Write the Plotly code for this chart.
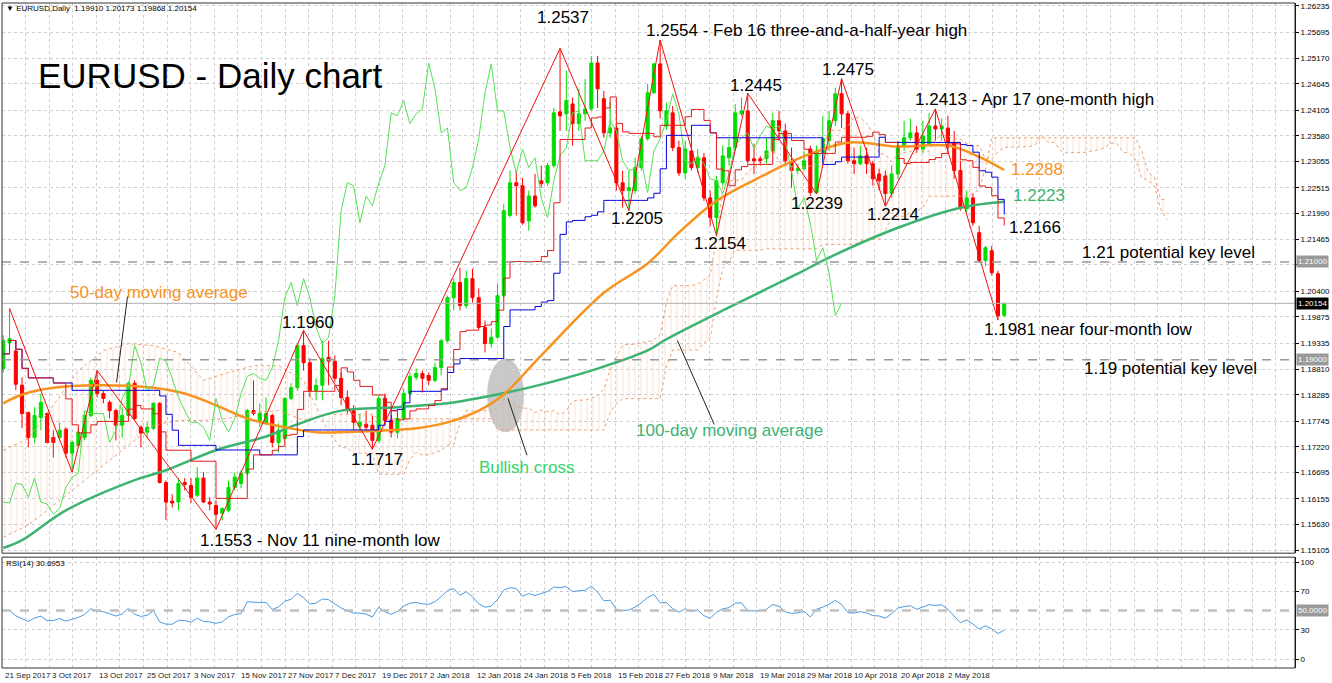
import plotly.graph_objects as go
import pandas as pd
import numpy as np

# ---------------- data ----------------
OPEN = [1.1882,1.1935,1.1918,1.1848,1.1792,1.1741,1.1782,1.1790,1.1741,1.1741,
        1.1758,1.1709,1.1725,1.1741,1.1786,1.1858,1.1831,1.1813,1.1796,1.1766,
        1.1786,1.1852,1.1762,1.1752,1.1760,1.1811,1.1649,1.1611,1.1609,1.1649,
        1.1643,1.1623,1.1658,1.1609,1.1602,1.1586,1.1592,1.1639,1.1647,1.1668,
        1.1796,1.1776,1.1770,1.1786,1.1731,1.1739,1.1821,1.1843,1.1929,1.1894,
        1.1837,1.1848,1.1905,1.1897,1.1862,1.1823,1.1796,1.1764,1.1768,1.1766,
        1.1735,1.1821,1.1776,1.1752,1.1780,1.1831,1.1864,1.1872,1.1868,1.1858,
        1.1884,1.1939,1.2027,1.2058,1.2011,1.2066,1.2027,1.1966,1.1933,1.1946,
        1.2031,1.2195,1.2262,1.2256,1.2184,1.2235,1.2266,1.2262,1.2297,1.2407,
        1.2403,1.2423,1.2383,1.2403,1.2413,1.2507,1.2434,1.2364,1.2374,1.2262,
        1.2246,1.2246,1.2293,1.2352,1.2446,1.2505,1.2378,1.2405,1.2334,1.2282,
        1.2327,1.2293,1.2313,1.2231,1.2191,1.2262,1.2313,1.2334,1.2403,1.2409,
        1.2311,1.2311,1.2311,1.2327,1.2389,1.2368,1.2305,1.2287,1.2291,1.2331,
        1.2242,1.2323,1.2348,1.2389,1.2444,1.2403,1.2307,1.2301,1.2317,1.2301,
        1.2280,1.2276,1.2240,1.2280,1.2338,1.2354,1.2364,1.2331,1.2342,1.2378,
        1.2372,1.2374,1.2344,1.2287,1.2209,1.2231,1.2160,1.2103,1.2123,1.2076,
        1.19910]
HIGH = [1.1950,1.2005,1.1940,1.1864,1.1794,1.1803,1.1831,1.1792,1.1756,1.1772,
        1.1762,1.1735,1.1760,1.1792,1.1864,1.1878,1.1837,1.1817,1.1800,1.1803,
        1.1856,1.1858,1.1766,1.1772,1.1813,1.1813,1.1653,1.1625,1.1658,1.1658,
        1.1658,1.1680,1.1670,1.1619,1.1613,1.1598,1.1653,1.1670,1.1674,1.1800,
        1.1858,1.1811,1.1823,1.1790,1.1770,1.1823,1.1852,1.1933,1.1960,1.1903,
        1.1862,1.1939,1.1939,1.1909,1.1874,1.1837,1.1807,1.1790,1.1796,1.1786,
        1.1827,1.1831,1.1786,1.1796,1.1841,1.1874,1.1882,1.1878,1.1874,1.1894,
        1.1943,1.2031,1.2066,1.2088,1.2082,1.2086,1.2046,1.1980,1.1964,1.2056,
        1.2219,1.2287,1.2287,1.2272,1.2246,1.2280,1.2297,1.2303,1.2415,1.2537,
        1.2491,1.2436,1.2454,1.2474,1.2521,1.2521,1.2450,1.2426,1.2383,1.2287,
        1.2287,1.2313,1.2358,1.2464,1.2507,1.2554,1.2426,1.2419,1.2348,1.2348,
        1.2358,1.2331,1.2323,1.2246,1.2276,1.2338,1.2352,1.2423,1.2436,1.2445,
        1.2342,1.2317,1.2354,1.2405,1.2409,1.2383,1.2334,1.2301,1.2327,1.2338,
        1.2338,1.2399,1.2409,1.2456,1.2475,1.2409,1.2334,1.2338,1.2334,1.2307,
        1.2291,1.2287,1.2297,1.2348,1.2389,1.2393,1.2378,1.2389,1.2405,1.2413,
        1.2393,1.2399,1.2368,1.2307,1.2246,1.2240,1.2174,1.2133,1.2133,1.2082,
        1.20173]
LOW = [1.1874,1.1930,1.1838,1.1760,1.1721,1.1729,1.1756,1.1729,1.1700,1.1735,
       1.1700,1.1670,1.1720,1.1735,1.1782,1.1823,1.1811,1.1780,1.1735,1.1741,
       1.1782,1.1776,1.1721,1.1741,1.1756,1.1647,1.1572,1.1598,1.1592,1.1633,
       1.1607,1.1619,1.1607,1.1592,1.1553,1.1572,1.1588,1.1633,1.1637,1.1664,
       1.1786,1.1762,1.1766,1.1721,1.1711,1.1735,1.1817,1.1837,1.1878,1.1823,
       1.1817,1.1817,1.1848,1.1854,1.1807,1.1790,1.1756,1.1752,1.1756,1.1717,
       1.1731,1.1766,1.1741,1.1739,1.1776,1.1827,1.1858,1.1833,1.1848,1.1854,
       1.1868,1.1935,1.2001,1.2001,1.2005,1.2017,1.1964,1.1915,1.1925,1.1944,
       1.2027,1.2191,1.2195,1.2176,1.2164,1.2211,1.2252,1.2256,1.2293,1.2368,
       1.2368,1.2338,1.2368,1.2389,1.2409,1.2415,1.2354,1.2354,1.2246,1.2211,
       1.2205,1.2240,1.2287,1.2348,1.2444,1.2393,1.2370,1.2327,1.2276,1.2270,
       1.2287,1.2282,1.2225,1.2174,1.2154,1.2256,1.2297,1.2327,1.2399,1.2301,
       1.2280,1.2297,1.2301,1.2321,1.2348,1.2301,1.2252,1.2280,1.2287,1.2235,
       1.2239,1.2307,1.2327,1.2378,1.2374,1.2301,1.2280,1.2297,1.2280,1.2256,
       1.2246,1.2214,1.2231,1.2270,1.2327,1.2348,1.2323,1.2323,1.2338,1.2348,
       1.2348,1.2331,1.2270,1.2205,1.2201,1.2174,1.2098,1.2092,1.2072,1.1981,
       1.19868]
CLOSE = [1.1939,1.1943,1.1850,1.1790,1.1741,1.1786,1.1813,1.1731,1.1731,1.1756,
         1.1709,1.1731,1.1752,1.1786,1.1858,1.1831,1.1821,1.1796,1.1766,1.1786,
         1.1852,1.1780,1.1750,1.1762,1.1811,1.1649,1.1609,1.1607,1.1647,1.1645,
         1.1619,1.1658,1.1609,1.1605,1.1584,1.1596,1.1639,1.1660,1.1668,1.1796,
         1.1790,1.1790,1.1790,1.1731,1.1756,1.1821,1.1843,1.1929,1.1894,1.1837,
         1.1848,1.1903,1.1897,1.1862,1.1823,1.1796,1.1772,1.1772,1.1762,1.1735,
         1.1821,1.1776,1.1752,1.1780,1.1831,1.1866,1.1872,1.1862,1.1858,1.1884,
         1.1939,1.2027,1.2058,1.2011,1.2066,1.2027,1.1966,1.1933,1.1946,1.2031,
         1.2205,1.2262,1.2256,1.2180,1.2235,1.2215,1.2260,1.2297,1.2405,1.2399,
         1.2430,1.2383,1.2403,1.2413,1.2507,1.2454,1.2364,1.2374,1.2262,1.2246,
         1.2252,1.2293,1.2352,1.2446,1.2505,1.2409,1.2409,1.2334,1.2282,1.2331,
         1.2293,1.2313,1.2231,1.2191,1.2266,1.2317,1.2334,1.2405,1.2409,1.2307,
         1.2307,1.2307,1.2327,1.2389,1.2368,1.2307,1.2287,1.2291,1.2307,1.2242,
         1.2327,1.2352,1.2389,1.2444,1.2403,1.2307,1.2301,1.2317,1.2301,1.2270,
         1.2266,1.2240,1.2280,1.2338,1.2354,1.2364,1.2331,1.2358,1.2378,1.2372,
         1.2378,1.2344,1.2287,1.2209,1.2231,1.2180,1.2103,1.2129,1.2078,1.1990,
         1.20154]

DATE_LABELS = ["21 Sep 2017", "3 Oct 2017", "13 Oct 2017", "25 Oct 2017", "3 Nov 2017",
               "15 Nov 2017", "27 Nov 2017", "7 Dec 2017", "19 Dec 2017", "2 Jan 2018",
               "12 Jan 2018", "24 Jan 2018", "5 Feb 2018", "15 Feb 2018", "27 Feb 2018",
               "9 Mar 2018", "19 Mar 2018", "29 Mar 2018", "10 Apr 2018", "20 Apr 2018",
               "2 May 2018"]

PRICE_TICKS = [1.26235, 1.25695, 1.25170, 1.24645, 1.24105, 1.23580, 1.23055, 1.22515,
               1.21990, 1.21465, 1.20940, 1.20400, 1.19875, 1.19335, 1.18810, 1.18285,
               1.17745, 1.17220, 1.16695, 1.16155, 1.15630, 1.15105]
HIDDEN_TICKS = [1.20940]          # label covered by the 1.21000 marker in the original
RSI_TICKS = [0, 30, 70, 100]

# moving averages read at sample bars
MA50_IDX = [0, 3, 8, 15, 24, 29, 34, 39, 45, 50, 58, 66, 71, 76, 80, 86, 96, 103, 108,
            114, 122, 127, 135, 143, 151, 156, 160]
MA50_VAL = [1.1811, 1.1829, 1.1843, 1.1848, 1.1843, 1.1831, 1.1807, 1.1780, 1.1762, 1.1752,
            1.1754, 1.1760, 1.1772, 1.1796, 1.1829, 1.1909, 1.2037, 1.2097, 1.2160, 1.2225,
            1.2280, 1.2311, 1.2344, 1.2336, 1.2338, 1.2315, 1.2288]
MA100_IDX = [0, 3, 10, 21, 26, 34, 42, 47, 54, 63, 71, 74, 84, 95, 103, 106, 116, 127,
             132, 143, 153, 160]
MA100_VAL = [1.1515, 1.1531, 1.1592, 1.1654, 1.1674, 1.1715, 1.1743, 1.1768, 1.1796, 1.1803,
             1.1811, 1.1817, 1.1843, 1.1882, 1.1919, 1.1942, 1.2007, 1.2076, 1.2109, 1.2170,
             1.2211, 1.2223]

# early part of the Ichimoku cloud (needs history before the chart)
CLOUD_EARLY_IDX = [0, 4, 8, 12, 16, 20, 24, 28, 32, 36, 40, 44, 48]
CLOUD_EARLY_A = [1.1715, 1.1739, 1.1807, 1.1878, 1.1919, 1.1933, 1.1929, 1.1915, 1.1858,
                 1.1874, 1.1888, 1.1888, 1.1858]
CLOUD_EARLY_B = [1.1537, 1.1562, 1.1602, 1.1643, 1.1684, 1.1725, 1.1766, 1.1776, 1.1776,
                 1.1780, 1.1792, 1.1796, 1.1776]

# zigzag pivots
PIVOT_IDX = [1, 11, 15, 34, 48, 59, 89, 100, 105, 114, 119, 130, 134, 141, 149, 159]
PIVOT_KIND = ["H", "L", "H", "L", "H", "L", "H", "L", "H", "L", "H", "L", "H", "L", "H", "L"]

KEY_LEVELS = [1.21, 1.19]
LAST_PRICE = 1.20154

# ---------------- derived indicators ----------------
df = pd.DataFrame({"o": OPEN, "h": HIGH, "l": LOW, "c": CLOSE})
n = len(df)
idx = np.arange(n)
tenkan = (df.h.rolling(9, min_periods=1).max() + df.l.rolling(9, min_periods=1).min()) / 2
kijun = (df.h.rolling(26, min_periods=1).max() + df.l.rolling(26, min_periods=1).min()) / 2
span_a_raw = (tenkan + kijun) / 2
span_b_raw = (df.h.rolling(52, min_periods=1).max() + df.l.rolling(52, min_periods=1).min()) / 2
shifted = idx + 26
mask = shifted >= 52
cloud_x = CLOUD_EARLY_IDX + list(shifted[mask])
cloud_a = CLOUD_EARLY_A + list(span_a_raw[mask])
cloud_b = CLOUD_EARLY_B + list(span_b_raw[mask])

chikou_x = idx[:-26]
chikou_y = CLOSE[26:]

zz_y = [HIGH[i] if k == "H" else LOW[i] for i, k in zip(PIVOT_IDX, PIVOT_KIND)]

# Wilder RSI(14)
ag, al = 0.003, 0.003
rsi = [50.0]
for i in range(1, n):
    d = CLOSE[i] - CLOSE[i - 1]
    ag = (ag * 13 + max(d, 0)) / 14
    al = (al * 13 + max(-d, 0)) / 14
    rsi.append(100 - 100 / (1 + ag / al))

# ---------------- layout geometry ----------------
W, H = 1332, 683
ML, MR, MT, MB = 2, 32, 2, 15
PW, PH = W - ML - MR, H - MT - MB
BAR0, DX = 3.3, 6.28           # pixel of bar 0 and pixel per bar
x_min = -(BAR0 - ML) / DX
x_max = x_min + PW / DX
P0, KP = 1.26337, 0.0002042     # price = P0 - KP * ypix
main_top, main_bot = 2, 553
rsi_top, rsi_bot = 557, 668
dom_main = [(668 - main_bot) / PH, 1.0]
dom_rsi = [0.0, (668 - rsi_top) / PH]
y_rng = [P0 - KP * main_bot, P0 - KP * main_top]
rsi_rng = [(659 - rsi_bot) / 0.97, (659 - rsi_top) / 0.97]


def pxx(px):
    return (px - ML) / PW


def pxy(py):
    return (668 - py) / PH


GREEN = "#00dd00"
RED = "#ff0000"
ORANGE = "#f7931e"
MAGREEN = "#3cb371"
FONT = "Liberation Sans, Arial, sans-serif"

fig = go.Figure()

# cloud
fig.add_trace(go.Scatter(x=cloud_x, y=cloud_b, mode="lines",
                         line=dict(color="#f0a070", width=1, dash="dot"),
                         hoverinfo="skip", yaxis="y"))
fig.add_trace(go.Scatter(x=cloud_x, y=cloud_a, mode="lines", fill="tonexty",
                         fillcolor="rgba(0,0,0,0)",
                         fillpattern=dict(shape="|", fgcolor="rgba(240,150,100,0.55)",
                                          bgcolor="rgba(255,255,255,0)", size=6, solidity=0.17),
                         line=dict(color="#f0a070", width=1, dash="dot"),
                         hoverinfo="skip", yaxis="y"))

# moving averages
fig.add_trace(go.Scatter(x=MA100_IDX, y=MA100_VAL, mode="lines", line_shape="spline",
                         line=dict(color=MAGREEN, width=2.5), hoverinfo="skip"))
fig.add_trace(go.Scatter(x=MA50_IDX, y=MA50_VAL, mode="lines", line_shape="spline",
                         line=dict(color=ORANGE, width=2.5), hoverinfo="skip"))

# candles
fig.add_trace(go.Candlestick(x=idx, open=OPEN, high=HIGH, low=LOW, close=CLOSE,
                             increasing=dict(line=dict(color=GREEN, width=1), fillcolor=GREEN),
                             decreasing=dict(line=dict(color=RED, width=1), fillcolor=RED),
                             whiskerwidth=0, hoverinfo="skip"))

# ichimoku lines
fig.add_trace(go.Scatter(x=chikou_x, y=chikou_y, mode="lines",
                         line=dict(color="#55e055", width=1), hoverinfo="skip"))
fig.add_trace(go.Scatter(x=idx, y=kijun, mode="lines", line_shape="hv",
                         line=dict(color="#0000dd", width=1), hoverinfo="skip"))
fig.add_trace(go.Scatter(x=idx, y=tenkan, mode="lines", line_shape="hv",
                         line=dict(color="#e41a1a", width=1), hoverinfo="skip"))
# zigzag
fig.add_trace(go.Scatter(x=PIVOT_IDX, y=zz_y, mode="lines",
                         line=dict(color="#ee1111", width=1), hoverinfo="skip"))

# RSI
fig.add_trace(go.Scatter(x=idx, y=rsi, mode="lines", yaxis="y2",
                         line=dict(color="#4a9ae0", width=1), hoverinfo="skip"))

# ---------------- shapes ----------------
shapes = []
for lv in KEY_LEVELS:
    shapes.append(dict(type="line", xref="paper", x0=0, x1=1, yref="y", y0=lv, y1=lv,
                       line=dict(color="#9a9a9a", width=1.5, dash="dash")))
shapes.append(dict(type="line", xref="paper", x0=0, x1=1, yref="y", y0=LAST_PRICE, y1=LAST_PRICE,
                   line=dict(color="#b0b0b0", width=1)))
shapes.append(dict(type="line", xref="paper", x0=0, x1=1, yref="y2", y0=50, y1=50,
                   line=dict(color="#c0c0c0", width=2.5, dash="dash")))
# ellipse for bullish cross
shapes.append(dict(type="circle", xref="paper", yref="paper", x0=pxx(489), x1=pxx(526),
                   y0=pxy(432), y1=pxy(358), fillcolor="#c9c9c9", line=dict(width=0),
                   layer="below"))
# pointer lines
for (a, b, c, d) in [(128, 296, 117, 382), (680, 340, 717, 424), (510, 398, 529, 455)]:
    shapes.append(dict(type="line", xref="paper", yref="paper", x0=pxx(a), y0=pxy(b),
                       x1=pxx(c), y1=pxy(d), line=dict(color="#222", width=1)))
# panel frames
for dom in (dom_main, dom_rsi):
    shapes.append(dict(type="rect", xref="paper", yref="paper", x0=0, x1=1, y0=dom[0], y1=dom[1],
                       line=dict(color="#333", width=1), fillcolor="rgba(0,0,0,0)"))

# ---------------- annotations ----------------
ann = []


def txt(text, x, y, xref="paper", yref="paper", xanchor="left", yanchor="middle",
        size=17, color="#000", xshift=0, yshift=0, **kw):
    ann.append(dict(text=text, x=x, y=y, xref=xref, yref=yref, xanchor=xanchor,
                    yanchor=yanchor, showarrow=False, xshift=xshift, yshift=yshift,
                    font=dict(family=FONT, size=size, color=color), **kw))


txt("EURUSD - Daily chart", pxx(36), pxy(75), size=35)
txt("\u25bc EURUSD,Daily  1.19910 1.20173 1.19868 1.20154", pxx(4), pxy(8), size=8)
txt("RSI(14) 30.6953", pxx(4), pxy(563), size=8)

pivot_labels = [
    ("1.2537", 89, "center", 3, 31),
    ("1.2554 - Feb 16 three-and-a-half-year high", 105, "left", -16, 9),
    ("1.2445", 119, "center", 8, 8),
    ("1.2475", 134, "center", 6, 9),
    ("1.2413 - Apr 17 one-month high", 149, "left", -22, 9),
    ("1.2205", 100, "center", 8, -8),
    ("1.2154", 114, "center", 4, -8),
    ("1.2239", 130, "center", 0, -9),
    ("1.2214", 141, "center", 8, -8),
    ("1.1960", 48, "center", 4, 8),
    ("1.1717", 59, "center", 5, -10),
    ("1.1553 - Nov 11 nine-month low", 34, "left", -18, -11),
    ("1.1981 near four-month low", 159, "left", -16, -9),
]
for text, i, xa, xs, ys in pivot_labels:
    k = PIVOT_IDX.index(i)
    txt(text, i, zz_y[k], xref="x", yref="y", xanchor=xa, xshift=xs, yshift=ys)

txt("1.2288", n - 1, MA50_VAL[-1], xref="x", yref="y", xshift=5, yshift=1, color=ORANGE)
txt("1.2223", n - 1, MA100_VAL[-1], xref="x", yref="y", xshift=7, yshift=6, color=MAGREEN)
txt("1.2166", n - 1, float(tenkan.iloc[-1]), xref="x", yref="y", xshift=3, yshift=-2)
txt("1.21 potential key level", pxx(1084), KEY_LEVELS[0], yref="y", yshift=9)
txt("1.19 potential key level", pxx(1086), KEY_LEVELS[1], yref="y", yshift=-9)
txt("50-day moving average", pxx(68), pxy(292), color=ORANGE)
txt("100-day moving average", pxx(636), pxy(430), color=MAGREEN)
txt("Bullish cross", pxx(479), pxy(467), color="#36d46a")

# right-side boxed values
for val, bg, yref in [(1.21, "#9a9a9a", "y"), (1.19, "#9a9a9a", "y"), (LAST_PRICE, "#000000", "y")]:
    ann.append(dict(text=f"{val:.5f}", x=1, y=val, xref="paper", yref=yref, xanchor="left",
                    yanchor="middle", showarrow=False, xshift=1, bgcolor=bg, borderpad=1,
                    font=dict(family=FONT, size=8, color="#ffffff")))
ann.append(dict(text="50.0000", x=1, y=50, xref="paper", yref="y2", xanchor="left",
                yanchor="middle", showarrow=False, xshift=1, bgcolor="#9a9a9a", borderpad=1,
                font=dict(family=FONT, size=8, color="#ffffff")))

# date labels
step = 7.54
tick_pos = [-0.2 + k * step for k in range(len(DATE_LABELS))]
for pos, lab in zip(tick_pos, DATE_LABELS):
    ann.append(dict(text=lab, x=pos, y=0, xref="x", yref="paper", xanchor="left", yanchor="top",
                    showarrow=False, xshift=1, yshift=-1,
                    font=dict(family=FONT, size=8, color="#222")))
grid_pos = [-0.2 + k * step / 2 for k in range(60)]

fig.update_layout(
    width=W, height=H, margin=dict(l=ML, r=MR, t=MT, b=MB),
    paper_bgcolor="white", plot_bgcolor="white", showlegend=False,
    hovermode=False, shapes=shapes, annotations=ann,
    xaxis=dict(range=[x_min, x_max], anchor="y2", tickvals=grid_pos, showticklabels=False,
               showgrid=True, gridcolor="#cfcfcf", griddash="dot", gridwidth=1,
               zeroline=False, rangeslider=dict(visible=False), fixedrange=True, ticks=""),
    yaxis=dict(domain=dom_main, range=y_rng, side="right", tickvals=PRICE_TICKS,
               ticktext=["" if v in HIDDEN_TICKS else f"{v:.5f}" for v in PRICE_TICKS],
               tickfont=dict(family=FONT, size=8, color="#000"),
               showgrid=True, gridcolor="#cfcfcf", griddash="dot", zeroline=False,
               ticks="outside", ticklen=3, tickcolor="#000", showline=True, linecolor="#000",
               fixedrange=True),
    yaxis2=dict(domain=dom_rsi, range=rsi_rng, side="right", tickvals=RSI_TICKS,
                ticktext=[str(v) for v in RSI_TICKS], tickfont=dict(family=FONT, size=8, color="#000"),
                showgrid=True, gridcolor="#cfcfcf", griddash="dot", zeroline=False,
                ticks="outside", ticklen=3, tickcolor="#000", showline=True, linecolor="#000",
                fixedrange=True),
)

fig.write_html("out.html")
